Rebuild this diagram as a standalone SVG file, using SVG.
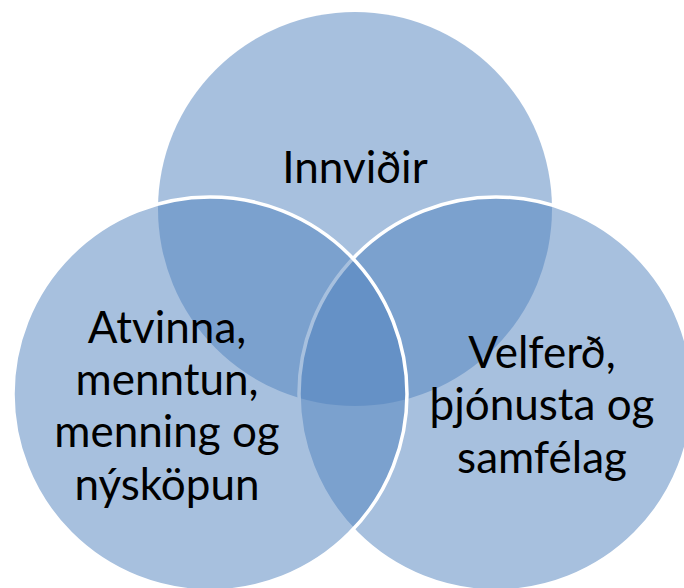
<svg xmlns="http://www.w3.org/2000/svg" width="684" height="588" viewBox="0 0 684 588">
  <style>
    .c { fill: #4f81bd; fill-opacity: 0.5; }
    .s { stroke: #ffffff; stroke-width: 3.5; }
    .t { font-family: Lato, "Liberation Sans", sans-serif; font-size: 44px; fill: #000000; text-anchor: middle; }
  </style>
  <rect width="684" height="588" fill="#ffffff"/>
  <g id="innvidir">
    <circle class="c" cx="355" cy="209" r="197"/>
    <text class="t" x="355" y="183">Innviðir</text>
  </g>
  <g id="velferd">
    <circle class="c s" cx="496" cy="394" r="197"/>
    <text class="t" x="542" y="368">Velferð,</text>
    <text class="t" x="542" y="420">þjónusta og</text>
    <text class="t" x="542" y="473">samfélag</text>
  </g>
  <g id="atvinna">
    <circle class="c s" cx="210" cy="394" r="197"/>
    <text class="t" x="167" y="343">Atvinna,</text>
    <text class="t" x="167" y="395">menntun,</text>
    <text class="t" x="167" y="447">menning og</text>
    <text class="t" x="167" y="500">nýsköpun</text>
  </g>
  <g id="connectors"/>
</svg>
